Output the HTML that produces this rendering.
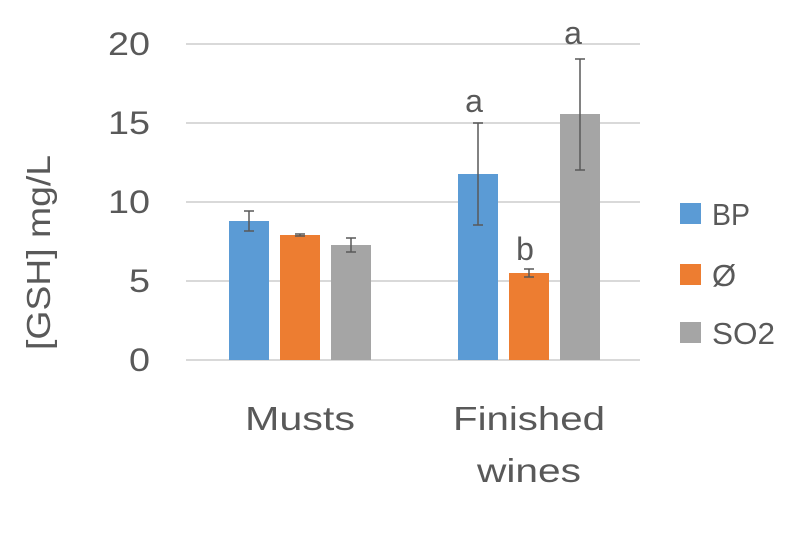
<!DOCTYPE html>
<html><head><style>body{margin:0;background:#fff}</style></head><body>
<svg width="800" height="542" xmlns="http://www.w3.org/2000/svg" font-family="Liberation Sans, sans-serif" fill="#595959">
<rect width="800" height="542" fill="#fff"/>
<g stroke="#d9d9d9" stroke-width="2">
<line x1="186" y1="44" x2="640" y2="44"/><line x1="186" y1="123" x2="640" y2="123"/><line x1="186" y1="202" x2="640" y2="202"/><line x1="186" y1="281" x2="640" y2="281"/><line x1="186" y1="360" x2="640" y2="360"/>
</g>
<g font-size="32">
<text x="108" y="55" textLength="42" lengthAdjust="spacingAndGlyphs">20</text>
<text x="108" y="134" textLength="42" lengthAdjust="spacingAndGlyphs">15</text>
<text x="108" y="213" textLength="42" lengthAdjust="spacingAndGlyphs">10</text>
<text x="129" y="292" textLength="21" lengthAdjust="spacingAndGlyphs">5</text>
<text x="129" y="371" textLength="21" lengthAdjust="spacingAndGlyphs">0</text>
</g>
<text transform="translate(50,350) rotate(-90)" font-size="33" textLength="195" lengthAdjust="spacingAndGlyphs">[GSH] mg/L</text>
<rect x="229" y="221" width="40" height="139" fill="#5B9BD5"/>
<rect x="280" y="235" width="40" height="125" fill="#ED7D31"/>
<rect x="331" y="245" width="40" height="115" fill="#A5A5A5"/>
<rect x="458" y="174" width="40" height="186" fill="#5B9BD5"/>
<rect x="509" y="273" width="40" height="87" fill="#ED7D31"/>
<rect x="560" y="114" width="40" height="246" fill="#A5A5A5"/>
<g stroke="#595959" stroke-width="1.5">
<path d="M249 211V231M244 211H254M244 231H254"/>
<path d="M300 234V236M295 234H305M295 236H305"/>
<path d="M351 238V252M346 238H356M346 252H356"/>
<path d="M478 123V225M473 123H483M473 225H483"/>
<path d="M529 269V277M524 269H534M524 277H534"/>
<path d="M580 59V170M575 59H585M575 170H585"/>
</g>
<g font-size="32" text-anchor="middle">
<text x="474" y="112">a</text><text x="525" y="260">b</text><text x="573" y="44">a</text>
</g>
<g font-size="33">
<text x="245" y="430" textLength="110" lengthAdjust="spacingAndGlyphs">Musts</text>
<text x="453" y="430" textLength="152" lengthAdjust="spacingAndGlyphs">Finished</text>
<text x="477" y="482" textLength="104" lengthAdjust="spacingAndGlyphs">wines</text>
</g>
<rect x="680" y="203" width="21" height="21" fill="#5B9BD5"/>
<rect x="680" y="264" width="21" height="21" fill="#ED7D31"/>
<rect x="680" y="322" width="21" height="21" fill="#A5A5A5"/>
<g font-size="31">
<text x="712" y="225" textLength="38" lengthAdjust="spacingAndGlyphs">BP</text>
<text x="712" y="286">Ø</text>
<text x="712" y="344" textLength="63" lengthAdjust="spacingAndGlyphs">SO2</text>
</g>
</svg>
</body></html>
